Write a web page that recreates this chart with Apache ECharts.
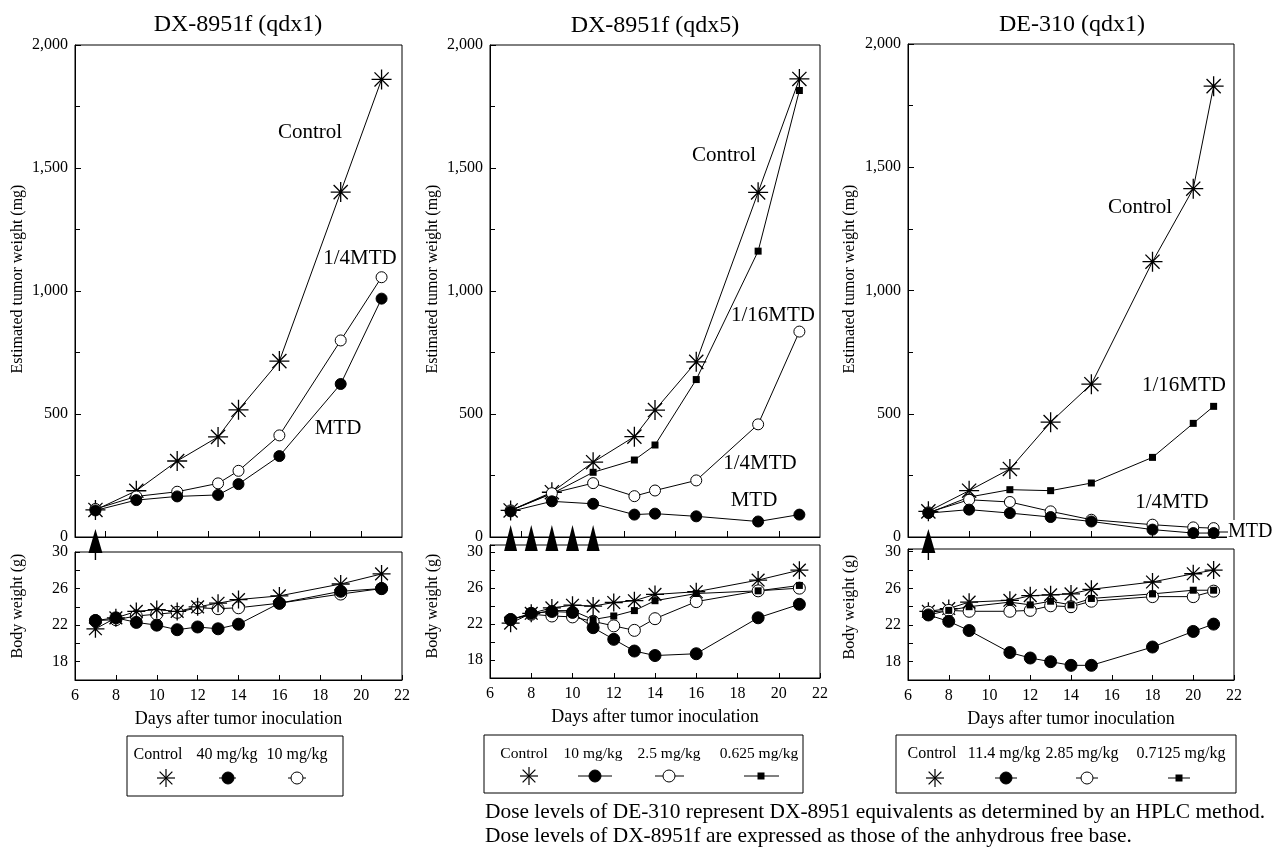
<!DOCTYPE html>
<html><head><meta charset="utf-8">
<script src="https://cdn.jsdelivr.net/npm/echarts@6/dist/echarts.min.js"></script>
<style>html,body{margin:0;padding:0;background:#fff}#c{width:1272px;height:849px}</style>
</head><body><div id="c"></div>
<script>
// ---------- DATA ----------
const panelTitles = ['DX-8951f (qdx1)', 'DX-8951f (qdx5)', 'DE-310 (qdx1)'];
const yTumorTicks = [0, 500, 1000, 1500, 2000];
const yBodyLabels = [18, 22, 26, 30];
const xDayLabels = [6, 8, 10, 12, 14, 16, 18, 20, 22];

// Panel 1: DX-8951f (qdx1)
const p1TumorDays = [7, 9, 11, 13, 14, 16, 19, 21];
const p1TumorControl = [110, 188, 309, 407, 517, 715, 1402, 1860];
const p1Tumor40 = [108, 150, 165, 171, 215, 329, 622, 969];
const p1Tumor10 = [114, 165, 184, 218, 269, 413, 799, 1056];
const p1BodyDays = [7, 8, 9, 10, 11, 12, 13, 14, 16, 19, 21];
const p1BodyControl = [21.6, 22.8, 23.5, 23.7, 23.5, 24.0, 24.4, 24.8, 25.2, 26.5, 27.6];
const p1Body40 = [22.5, 22.8, 22.3, 22.0, 21.5, 21.8, 21.6, 22.1, 24.4, 25.7, 26.0];
const p1Body10 = [22.5, 22.6, 23.0, 23.2, 23.4, 23.9, 23.8, 23.9, 24.4, 25.4, 26.0];
const p1DoseDays = [7];

// Panel 2: DX-8951f (qdx5)
const p2TumorDays = [7, 9, 11, 13, 14, 16, 19, 21];
const p2TumorControl = [108, 182, 304, 408, 516, 712, 1401, 1862];
const p2Tumor10 = [104, 145, 135, 91, 95, 84, 63, 91];
const p2Tumor25 = [108, 178, 219, 166, 189, 230, 458, 835];
const p2Tumor0625 = [108, 176, 263, 313, 374, 640, 1162, 1815];
const p2BodyDays = [7, 8, 9, 10, 11, 12, 13, 14, 16, 19, 21];
const p2BodyControl = [22.1, 23.2, 23.8, 24.1, 24.0, 24.4, 24.6, 25.3, 25.6, 26.9, 28.0];
const p2Body10 = [22.5, 23.2, 23.4, 23.3, 21.6, 20.3, 19.0, 18.5, 18.7, 22.7, 24.2];
const p2Body25 = [22.5, 23.1, 22.9, 22.8, 22.3, 21.8, 21.3, 22.6, 24.5, 25.7, 26.0];
const p2Body0625 = [22.5, 23.1, 23.5, 23.5, 22.5, 22.9, 23.5, 24.6, 25.4, 25.7, 26.3];
const p2DoseDays = [7, 8, 9, 10, 11];

// Panel 3: DE-310 (qdx1)
const p3TumorDays = [7, 9, 11, 13, 15, 18, 20, 21];
const p3TumorControl = [104, 188, 276, 466, 620, 1117, 1413, 1829];
const p3Tumor114 = [97, 111, 97, 81, 63, 30, 16, 16];
const p3Tumor285 = [100, 151, 142, 104, 70, 50, 39, 36];
const p3Tumor07125 = [97, 162, 192, 188, 219, 323, 461, 530];
const p3BodyDays = [7, 8, 9, 11, 12, 13, 14, 15, 18, 20, 21];
const p3BodyControl = [23.5, 23.8, 24.5, 24.7, 25.2, 25.3, 25.4, 25.9, 26.7, 27.6, 28.0];
const p3Body114 = [23.1, 22.4, 21.4, 19.0, 18.4, 18.0, 17.6, 17.6, 19.6, 21.3, 22.1];
const p3Body285 = [23.4, 23.6, 23.5, 23.5, 23.6, 24.1, 24.0, 24.6, 25.1, 25.1, 25.7];
const p3Body07125 = [23.1, 23.6, 24.0, 24.5, 24.2, 24.6, 24.2, 24.9, 25.4, 25.8, 25.8];
const p3DoseDays = [7];

// Text
const tumorAxisName = 'Estimated tumor weight (mg)';
const bodyAxisName = 'Body weight (g)';
const dayAxisName = 'Days after tumor inoculation';
const legend1 = ['Control', '40 mg/kg', '10 mg/kg'];
const legend2 = ['Control', '10 mg/kg', '2.5 mg/kg', '0.625 mg/kg'];
const legend3 = ['Control', '11.4 mg/kg', '2.85 mg/kg', '0.7125 mg/kg'];
const footnotes = [
  'Dose levels of DE-310 represent DX-8951 equivalents as determined by an HPLC method.',
  'Dose levels of DX-8951f are expressed as those of the anhydrous free base.'
];

// ---------- STYLE / LAYOUT ----------
const FONT = '"Liberation Serif","Times New Roman",serif';
const BLACK = '#000';
const STAR = 'path://M0,-10L0,10M-10,0L10,0M-7.07,-7.07L7.07,7.07M-7.07,7.07L7.07,-7.07';
const ARROW = 'path://M0,0L7,24L-7,24ZM-0.7,24L0.7,24L0.7,31L-0.7,31Z';

const grids = [
  {left: 75, top: 45, width: 327, height: 492},
  {left: 75, top: 552, width: 327, height: 128},
  {left: 490, top: 45, width: 330, height: 492},
  {left: 490, top: 545, width: 330, height: 133},
  {left: 908, top: 44, width: 326, height: 493},
  {left: 908, top: 549, width: 326, height: 131}
].map(g => Object.assign({show: true, borderColor: BLACK, borderWidth: 1, backgroundColor: 'transparent'}, g));

function topX(gi, tickOpt) {
  return {
    gridIndex: gi, type: 'value', min: 6, max: 22,
    axisLine: {show: true, onZero: false, lineStyle: {color: BLACK, width: 1}},
    axisTick: Object.assign({show: true, inside: true, length: 6, lineStyle: {color: BLACK}}, tickOpt),
    axisLabel: {show: false}, splitLine: {show: false}
  };
}
function bottomX(gi) {
  return {
    gridIndex: gi, type: 'value', min: 6, max: 22, interval: 2,
    axisLine: {show: true, onZero: false, lineStyle: {color: BLACK, width: 1}},
    axisTick: {show: true, inside: true, length: 5, lineStyle: {color: BLACK}},
    axisLabel: {show: true, color: BLACK, fontFamily: FONT, fontSize: 16, margin: 8,
      formatter: v => xDayLabels.indexOf(v) >= 0 ? String(v) : ''},
    splitLine: {show: false},
    name: dayAxisName, nameLocation: 'middle', nameGap: 30,
    nameTextStyle: {color: BLACK, fontFamily: FONT, fontSize: 18}
  };
}
function topY(gi) {
  return {
    gridIndex: gi, type: 'value', min: 0, max: 2000, interval: 500,
    axisLine: {show: true, onZero: false, lineStyle: {color: BLACK, width: 1}},
    axisTick: {show: true, inside: true, length: 6, lineStyle: {color: BLACK}},
    minorTick: {show: true, splitNumber: 2, length: 5, lineStyle: {color: BLACK}},
    axisLabel: {color: BLACK, fontFamily: FONT, fontSize: 16, margin: 7,
      formatter: v => yTumorTicks.indexOf(v) >= 0 ? v.toLocaleString('en-US') : ''},
    splitLine: {show: false}
  };
}
function bottomY(gi, max) {
  return {
    gridIndex: gi, type: 'value', min: 16, max: max, interval: 2,
    axisLine: {show: true, onZero: false, lineStyle: {color: BLACK, width: 1}},
    axisTick: {show: true, inside: true, length: 5, lineStyle: {color: BLACK}},
    axisLabel: {color: BLACK, fontFamily: FONT, fontSize: 16, margin: 7,
      formatter: v => yBodyLabels.indexOf(v) >= 0 ? String(v) : ''},
    splitLine: {show: false}
  };
}

const kinds = {
  star: {symbol: STAR, itemStyle: {color: BLACK, borderColor: BLACK, borderWidth: 1.3, opacity: 1}},
  filled: {symbol: 'circle', itemStyle: {color: BLACK, borderColor: BLACK, borderWidth: 1, opacity: 1}},
  open: {symbol: 'circle', itemStyle: {color: '#fff', borderColor: BLACK, borderWidth: 1, opacity: 1}},
  square: {symbol: 'rect', itemStyle: {color: BLACK, borderColor: BLACK, borderWidth: 0, opacity: 1}}
};
const topSizes = {star: 20, filled: 11, open: 11, square: 7};
const botSizes = {star: 18, filled: 12, open: 12, square: 7};

function mk(gi, days, vals, kind, sizes) {
  const k = kinds[kind];
  return {
    type: 'line', xAxisIndex: gi, yAxisIndex: gi,
    data: days.map((d, i) => [d, vals[i]]),
    symbol: k.symbol, symbolSize: sizes[kind], showSymbol: true, showAllSymbol: true,
    lineStyle: {color: BLACK, width: 1}, itemStyle: k.itemStyle,
    emphasis: {disabled: true}, animation: false, z: 2
  };
}
function arrows(gi, days, path, size, offset) {
  return {
    type: 'scatter', xAxisIndex: gi, yAxisIndex: gi, clip: false,
    data: days.map(d => [d, 0]), symbol: path, symbolSize: size, symbolOffset: offset,
    itemStyle: {color: BLACK, opacity: 1}, emphasis: {disabled: true},
    animation: false, z: 10, silent: true
  };
}

const series = [
  mk(0, p1TumorDays, p1TumorControl, 'star', topSizes),
  mk(0, p1TumorDays, p1Tumor10, 'open', topSizes),
  mk(0, p1TumorDays, p1Tumor40, 'filled', topSizes),
  mk(1, p1BodyDays, p1Body10, 'open', botSizes),
  mk(1, p1BodyDays, p1Body40, 'filled', botSizes),
  mk(1, p1BodyDays, p1BodyControl, 'star', botSizes),

  mk(2, p2TumorDays, p2TumorControl, 'star', topSizes),
  mk(2, p2TumorDays, p2Tumor0625, 'square', topSizes),
  mk(2, p2TumorDays, p2Tumor25, 'open', topSizes),
  mk(2, p2TumorDays, p2Tumor10, 'filled', topSizes),
  mk(3, p2BodyDays, p2BodyControl, 'star', botSizes),
  mk(3, p2BodyDays, p2Body25, 'open', botSizes),
  mk(3, p2BodyDays, p2Body0625, 'square', botSizes),
  mk(3, p2BodyDays, p2Body10, 'filled', botSizes),

  mk(4, p3TumorDays, p3TumorControl, 'star', topSizes),
  mk(4, p3TumorDays, p3Tumor07125, 'square', topSizes),
  mk(4, p3TumorDays, p3Tumor285, 'open', topSizes),
  mk(4, p3TumorDays, p3Tumor114, 'filled', topSizes),
  mk(5, p3BodyDays, p3BodyControl, 'star', botSizes),
  mk(5, p3BodyDays, p3Body285, 'open', botSizes),
  mk(5, p3BodyDays, p3Body07125, 'square', botSizes),
  mk(5, p3BodyDays, p3Body114, 'filled', botSizes),

  arrows(0, p1DoseDays, ARROW, [14, 31], [0, 7.5]),
  arrows(2, p2DoseDays, 'triangle', [13, 26], [0, 1]),
  arrows(4, p3DoseDays, ARROW, [14, 31], [0, 7.5])
];

// ---------- GRAPHIC (titles, annotations, legends, footnotes) ----------
function txt(text, x, y, size, align, extra) {
  return {type: 'text', x: x, y: y, silent: true, z: 20,
    style: Object.assign({text: text, fill: BLACK, font: size + 'px ' + FONT,
      textAlign: align || 'center', textVerticalAlign: 'middle',
      align: align || 'center', verticalAlign: 'middle'}, extra || {})};
}
function vtxt(text, x, y, size) {
  const el = txt(text, x, y, size);
  el.rotation = Math.PI / 2;
  return el;
}
function ln(x1, y1, x2, y2, w) {
  return {type: 'line', silent: true, z: 21, shape: {x1, y1, x2, y2}, style: {stroke: BLACK, lineWidth: w || 1}};
}
function star(cx, cy, r) {
  const d = r * 0.707;
  return [ln(cx, cy - r, cx, cy + r, 1.2), ln(cx - r, cy, cx + r, cy, 1.2),
          ln(cx - d, cy - d, cx + d, cy + d, 1.2), ln(cx - d, cy + d, cx + d, cy - d, 1.2)];
}
function circ(cx, cy, r, filled) {
  return {type: 'circle', silent: true, z: 22, shape: {cx, cy, r},
    style: {fill: filled ? BLACK : '#fff', stroke: BLACK, lineWidth: 1}};
}
function sq(cx, cy, s) {
  return {type: 'rect', silent: true, z: 22, shape: {x: cx - s / 2, y: cy - s / 2, width: s, height: s}, style: {fill: BLACK}};
}
function box(x, y, w, h) {
  return {type: 'rect', silent: true, z: 19, shape: {x, y, width: w, height: h},
    style: {fill: 'transparent', stroke: BLACK, lineWidth: 1}};
}

const g = [];
// titles
g.push(txt(panelTitles[0], 238, 25, 24), txt(panelTitles[1], 655, 26, 24), txt(panelTitles[2], 1072, 25, 24));
// y-axis names
g.push(vtxt(tumorAxisName, 18, 279, 16), vtxt(tumorAxisName, 433, 279, 16), vtxt(tumorAxisName, 850, 279, 16));
g.push(vtxt(bodyAxisName, 18, 606, 16), vtxt(bodyAxisName, 433, 606, 16), vtxt(bodyAxisName, 850, 607, 16));
// in-plot annotations
g.push(txt('Control', 310, 132, 21), txt('1/4MTD', 360, 258, 21), txt('MTD', 338, 428, 21));
g.push(txt('Control', 724, 155, 21), txt('1/16MTD', 773, 315, 21), txt('1/4MTD', 760, 463, 21), txt('MTD', 754, 500, 21));
g.push(txt('Control', 1140, 207, 21), txt('1/16MTD', 1184, 385, 21), txt('1/4MTD', 1172, 502, 21));
g.push(txt('MTD', 1227, 532, 20, 'left', {backgroundColor: '#fff', padding: [2, 2, 2, 1]}));
g.push(ln(1216, 532, 1228, 532));

// legend 1
g.push(box(127, 736, 216, 60));
g.push(txt(legend1[0], 158, 755, 16), txt(legend1[1], 227, 755, 16), txt(legend1[2], 297, 755, 16));
g.push(...star(166, 778, 9));
g.push(ln(219, 778, 236, 778), circ(228, 778, 6, true));
g.push(circ(297, 778, 6, false), ln(288, 778, 306, 778));
// legend 2
g.push(box(484, 735, 319, 58));
g.push(txt(legend2[0], 524, 754, 15.5), txt(legend2[1], 593, 754, 15.5), txt(legend2[2], 669, 754, 15.5), txt(legend2[3], 759, 754, 15.5));
g.push(...star(529, 776, 9));
g.push(ln(578, 776, 612, 776), circ(595, 776, 6, true));
g.push(circ(669, 776, 6, false), ln(655, 776, 684, 776));
g.push(ln(744, 776, 779, 776), sq(761, 776, 7));
// legend 3
g.push(box(896, 735, 340, 58));
g.push(txt(legend3[0], 932, 754, 16), txt(legend3[1], 1004, 754, 16), txt(legend3[2], 1082, 754, 16), txt(legend3[3], 1181, 754, 16));
g.push(...star(935, 778, 9));
g.push(ln(995, 778, 1017, 778), circ(1006, 778, 6, true));
g.push(circ(1087, 778, 6, false), ln(1076, 778, 1098, 778));
g.push(ln(1168, 778, 1190, 778), sq(1179, 778, 7));
// footnotes
g.push(txt(footnotes[0], 485, 812, 21.4, 'left'), txt(footnotes[1], 485, 836, 21.4, 'left'));

const option = {
  animation: false,
  backgroundColor: '#fff',
  textStyle: {fontFamily: FONT},
  grid: grids,
  xAxis: [
    topX(0, {customValues: [7.5, 10, 12.5, 15, 17.5, 20]}),
    bottomX(1),
    topX(2, {customValues: [7.5, 10, 12.5, 15, 17.5, 20]}),
    bottomX(3),
    topX(4, {interval: 1}),
    bottomX(5)
  ],
  yAxis: [topY(0), bottomY(1, 30), topY(2), bottomY(3, 30.8), topY(4), bottomY(5, 30.3)],
  series: series,
  graphic: {elements: g}
};
const chart = echarts.init(document.getElementById('c'), null, {renderer: 'canvas'});
chart.setOption(option);
</script></body></html>
